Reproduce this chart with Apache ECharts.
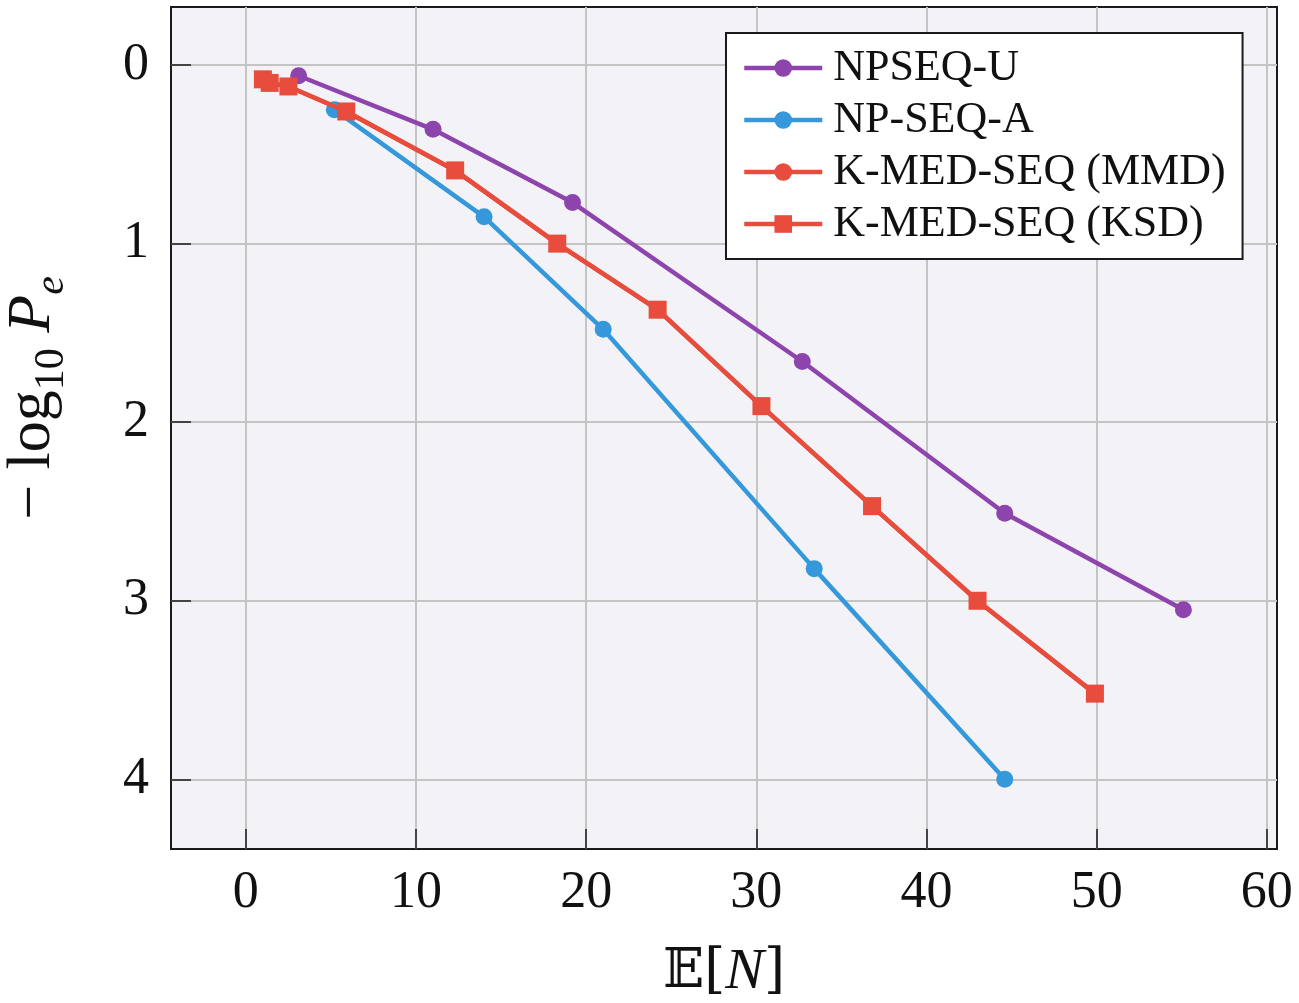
<!DOCTYPE html>
<html>
<head>
<meta charset="utf-8">
<script src="https://cdn.jsdelivr.net/npm/echarts@6/dist/echarts.min.js"></script>
<style>
  html, body { margin: 0; padding: 0; background: #fff; }
  #main { width: 1299px; height: 1003px; }
</style>
</head>
<body>
<div id="main"></div>
<script>
// ticks
var xTicks = [0, 10, 20, 30, 40, 50, 60];
var yTicks = [0, 1, 2, 3, 4];

// NPSEQ-U
var npseqU_x = [3.1, 11.0, 19.2, 32.7, 44.6, 55.1];
var npseqU_y = [0.06, 0.36, 0.77, 1.66, 2.51, 3.05];
// NP-SEQ-A
var npseqA_x = [5.2, 14.0, 21.0, 33.4, 44.6];
var npseqA_y = [0.25, 0.85, 1.48, 2.82, 4.0];
// K-MED-SEQ (MMD) -- sits under the KSD squares
var kmedMMD_x = [1.0, 1.4, 2.5, 5.9, 12.3, 18.3, 24.2, 30.3, 36.8, 43.0, 49.9];
var kmedMMD_y = [0.08, 0.10, 0.12, 0.26, 0.59, 1.0, 1.37, 1.91, 2.47, 3.0, 3.52];
// K-MED-SEQ (KSD)
var kmedKSD_x = [1.0, 1.4, 2.5, 5.9, 12.3, 18.3, 24.2, 30.3, 36.8, 43.0, 49.9];
var kmedKSD_y = [0.08, 0.10, 0.12, 0.26, 0.59, 1.0, 1.37, 1.91, 2.47, 3.0, 3.52];

function pairs(xs, ys) {
    var out = [];
    for (var i = 0; i < xs.length; i++) out.push([xs[i], ys[i]]);
    return out;
}

var serif = "'Liberation Serif', 'DejaVu Serif', serif";

function lineSeries(name, color, symbol, size, xs, ys, z) {
    return {
        name: name,
        type: 'line',
        symbol: symbol,
        symbolSize: size,
        z: z,
        lineStyle: { color: color, width: 4.5 },
        itemStyle: { color: color },
        emphasis: { disabled: true },
        data: pairs(xs, ys)
    };
}

var chart = echarts.init(document.getElementById('main'));
var option = {
    animation: false,
    backgroundColor: '#ffffff',
    grid: {
        left: 171, right: 22, top: 7, bottom: 154,
        containLabel: false,
        outerBoundsMode: 'none',
        show: true,
        backgroundColor: '#f3f3f7',
        borderColor: '#1a1a1a',
        borderWidth: 2
    },
    legend: {
        orient: 'vertical',
        left: 726, top: 33,
        padding: [13, 17, 13, 16],
        backgroundColor: '#ffffff',
        borderColor: '#1a1a1a',
        borderWidth: 2,
        borderRadius: 0,
        itemWidth: 78,
        itemHeight: 22,
        itemGap: 8,
        lineStyle: { width: 4.5 },
        textStyle: { fontFamily: serif, fontSize: 44, color: '#111', lineHeight: 44, padding: [0, 0, 0, 6] },
        data: ['NPSEQ-U', 'NP-SEQ-A', 'K-MED-SEQ (MMD)', 'K-MED-SEQ (KSD)']
    },
    xAxis: {
        type: 'value',
        min: -4.4, max: 60.6,
        name: '{a|𝔼[}{i|N}{a|]}',
        nameLocation: 'middle',
        nameGap: 95,
        nameTextStyle: {
            rich: {
                a: { fontFamily: "'DejaVu Serif', 'DejaVu Sans', serif", fontSize: 54, color: '#111' },
                i: { fontFamily: serif, fontStyle: 'italic', fontSize: 58, color: '#111' }
            }
        },
        axisLine: { show: true, onZero: false, lineStyle: { color: '#1a1a1a', width: 2 } },
        axisTick: { show: true, inside: true, length: 20, customValues: xTicks, lineStyle: { color: '#444', width: 2 } },
        axisLabel: { customValues: xTicks, margin: 18, fontFamily: serif, fontSize: 52, color: '#111' },
        splitLine: { show: true, lineStyle: { color: '#c4c4c4', width: 2 } }
    },
    yAxis: {
        type: 'value',
        inverse: true,
        min: -0.325, max: 4.39,
        name: '{a|− log}{s|10}{a| }{i|P}{si|e}',
        nameLocation: 'middle',
        nameGap: 98,
        nameRotate: 90,
        nameTextStyle: {
            padding: [0, 0, 0, 60],
            rich: {
                a: { fontFamily: serif, fontSize: 62, color: '#111', lineHeight: 80, verticalAlign: 'middle' },
                s: { fontFamily: serif, fontSize: 42, color: '#111', lineHeight: 80, verticalAlign: 'bottom' },
                i: { fontFamily: serif, fontStyle: 'italic', fontSize: 62, color: '#111', lineHeight: 80, verticalAlign: 'middle' },
                si: { fontFamily: serif, fontStyle: 'italic', fontSize: 42, color: '#111', lineHeight: 80, verticalAlign: 'bottom' }
            }
        },
        axisLine: { show: true, onZero: false, lineStyle: { color: '#1a1a1a', width: 2 } },
        axisTick: { show: true, inside: true, length: 20, customValues: yTicks, lineStyle: { color: '#444', width: 2 } },
        axisLabel: { customValues: yTicks, margin: 22, fontFamily: serif, fontSize: 52, color: '#111' },
        splitLine: { show: true, lineStyle: { color: '#c4c4c4', width: 2 } }
    },
    series: [
        lineSeries('K-MED-SEQ (MMD)', '#e74c3c', 'circle', 16, kmedMMD_x, kmedMMD_y, 2),
        lineSeries('NPSEQ-U', '#8e44ad', 'circle', 17, npseqU_x, npseqU_y, 3),
        lineSeries('NP-SEQ-A', '#3498db', 'circle', 17, npseqA_x, npseqA_y, 3),
        lineSeries('K-MED-SEQ (KSD)', '#e74c3c', 'rect', 18, kmedKSD_x, kmedKSD_y, 4)
    ]
};
chart.setOption(option);
window.addEventListener('resize', function () {
    chart.resize();
});
</script>
</body>
</html>
